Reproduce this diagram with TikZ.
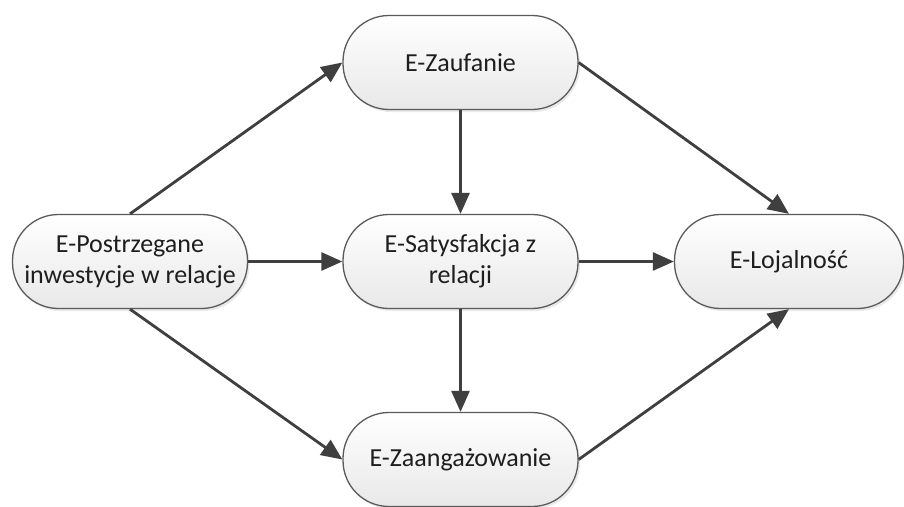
\documentclass[tikz,border=0pt]{standalone}
\usepackage{fontspec}
\setmainfont{Carlito}
\usetikzlibrary{arrows.meta,shadows}
\definecolor{linkcol}{HTML}{3F3F3F}
\definecolor{framecol}{HTML}{5A5A5A}
\definecolor{inkcol}{HTML}{1E1E1E}
\begin{document}
\begin{tikzpicture}[x=1pt,y=-1pt,
  pill/.style={draw=framecol, line width=1.3pt, rounded corners=46pt,
    top color=white, bottom color=black!9,
    drop shadow={opacity=0.18, shadow xshift=2pt, shadow yshift=-2.5pt, fill=black!45},
    minimum width=235pt, minimum height=94pt, inner sep=0pt,
    align=center, text=inkcol,
    font=\fontsize{26}{31}\selectfont},
  link/.style={draw=linkcol, line width=2.8pt,
    -{Triangle[length=21pt,width=18pt]}}]
\useasboundingbox (0,0) rectangle (904,506);
\fill[white] (0,0) rectangle (904,506);

\node[pill] (zau) at (460.5,62.5) {E-Zaufanie};
\node[pill] (pos) at (130,261.5) {E-Postrzegane\\inwestycje w relacje};
\node[pill] (sat) at (460.5,261.5) {E-Satysfakcja z\\relacji};
\node[pill, minimum width=229pt] (loj) at (789,261.5) {E-Lojalność};
\node[pill] (zaa) at (460.5,459.5) {E-Zaangażowanie};

\draw[link] (pos.north) -- (zau.west);
\draw[link] (pos.east) -- (sat.west);
\draw[link] (pos.south) -- (zaa.west);
\draw[link] (zau.south) -- (sat.north);
\draw[link] (sat.south) -- (zaa.north);
\draw[link] (zau.east) -- (loj.north);
\draw[link] (sat.east) -- (loj.west);
\draw[link] (zaa.east) -- (loj.south);
\end{tikzpicture}
\end{document}
